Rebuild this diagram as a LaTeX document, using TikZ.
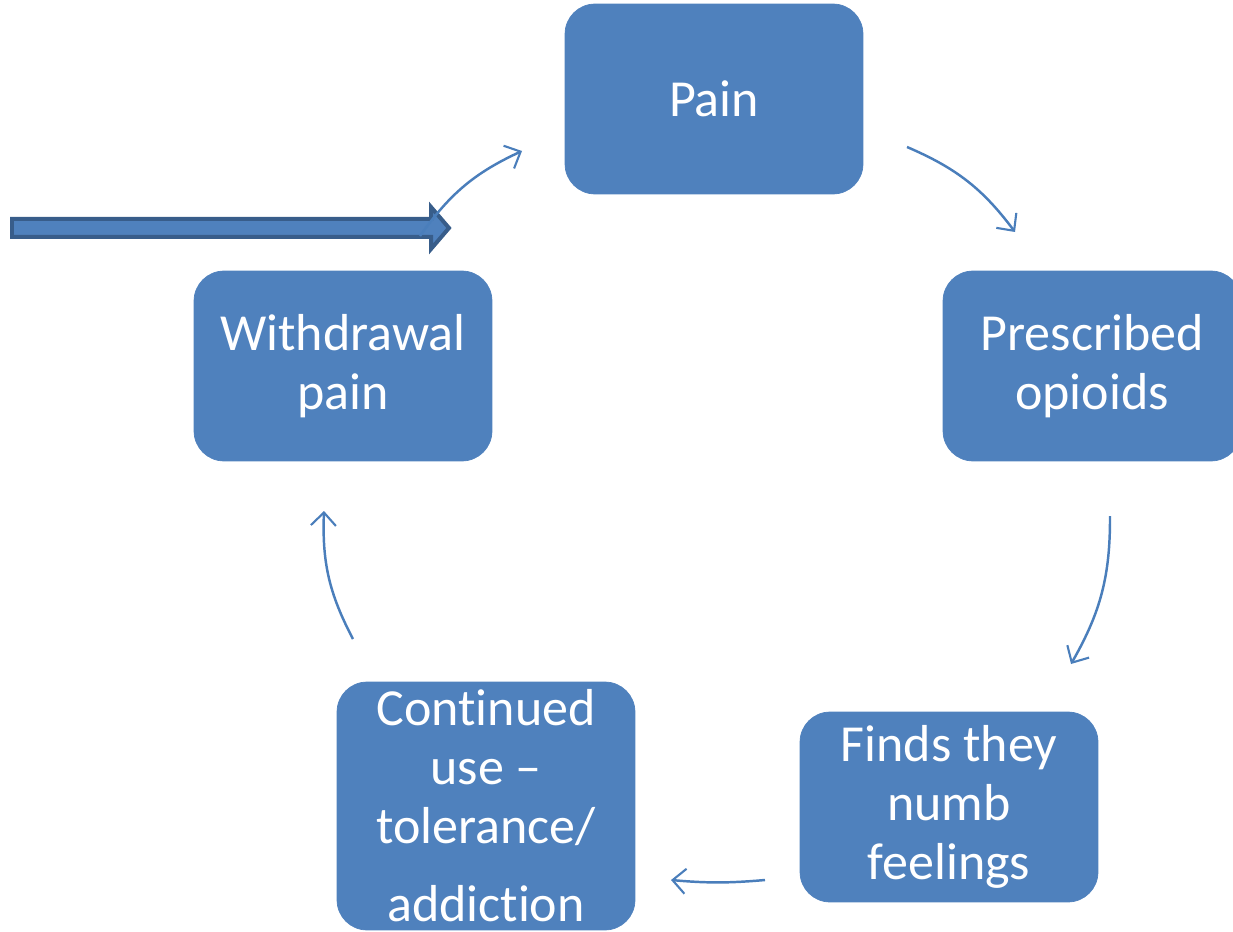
\documentclass[tikz,border=0pt]{standalone}
\usepackage{fontspec}
\setmainfont{Carlito}[RawFeature={-liga;-calt;-clig;-dlig}]
\usetikzlibrary{arrows.meta}
\definecolor{boxblue}{HTML}{4F81BD}
\definecolor{lineblue}{HTML}{4A7EBB}
\definecolor{darkblue}{HTML}{385D8A}
\tikzset{
  stage/.style={fill=boxblue, draw=boxblue, rounded corners=0.6cm,
    minimum width=5.96cm, minimum height=3.8cm, text=white, align=center,
    font=\fontsize{29.6}{33.6}\selectfont},
  flow/.style={draw=lineblue, line width=1.4pt, bend left=15,
    -{Straight Barb[length=0.26cm, width=0.5cm, line width=1.2pt]}}
}
\begin{document}
\begin{tikzpicture}[x=0.02cm, y=-0.02cm]
\useasboundingbox (0,0) rectangle (1233,932);
% boxes
\path
(714,99) node[stage](pain){Pain}
(1092,366) node[stage](presc){Prescribed\\opioids}
(949,807) node[stage](numb){Finds they\\numb\\feelings}
(486,806) node[stage, minimum height=4.96cm](cont){Continued\\use --\\tolerance/\\[0.38cm]addiction}
(343,366) node[stage](withd){Withdrawal\\pain};
% arrow ends
\coordinate (w1) at (420,236);
\coordinate (p0) at (522,151);
\coordinate (p1) at (907,147);
\coordinate (r0) at (1015,232);
\coordinate (r1) at (1110,516);
\coordinate (n0) at (1071,664);
\coordinate (n1) at (765,880);
\coordinate (c0) at (671,880);
\coordinate (c1) at (353,639);
\coordinate (w0) at (324,511);
% entry arrow
\filldraw[draw=darkblue, fill=boxblue, line width=0.08cm, line join=miter]
(12,219) -- (431,219) -- (431,207) -- (449,228) -- (431,249) -- (431,237) -- (12,237) -- cycle;
\path[flow] (w1) to (p0);
\path[flow] (p1) to (r0);
\path[flow] (r1) to (n0);
\path[flow, bend left=5] (n1) to (c0);
\path[flow] (c1) to (w0);
\end{tikzpicture}
\end{document}
